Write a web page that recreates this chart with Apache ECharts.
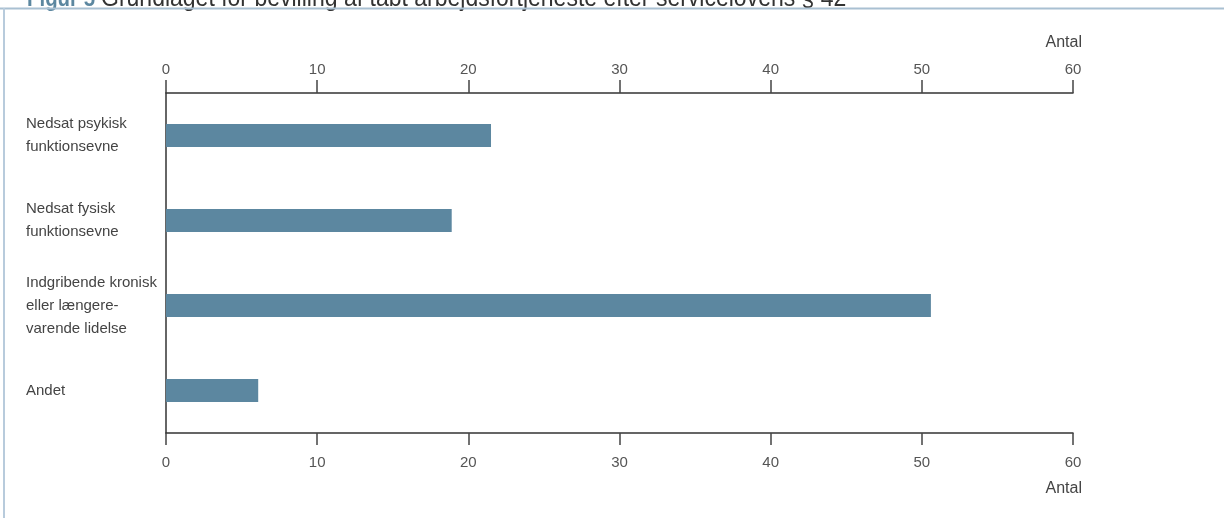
<!DOCTYPE html>
<html>
<head>
<meta charset="utf-8">
<script src="https://cdn.jsdelivr.net/npm/echarts@6/dist/echarts.min.js"></script>
<style>
html,body{margin:0;padding:0;background:#fff;}
#c{width:1224px;height:518px;}
</style>
</head>
<body>
<div id="c"></div>
<script>
const categories = [
  'Nedsat psykisk\nfunktionsevne',
  'Nedsat fysisk\nfunktionsevne',
  'Indgribende kronisk\neller længere-\nvarende lidelse',
  'Andet'
];
const values = [21.5, 18.9, 50.6, 6.1];
const axisMin = 0, axisMax = 60, axisStep = 10;
const axisName = 'Antal';
const titleNum = 'Figur 5';
const titleText = 'Grundlaget for bevilling af tabt arbejdsfortjeneste efter servicelovens § 42';

const FONT = '"Liberation Sans Narrow", "Liberation Sans", Arial, sans-serif';
const chart = echarts.init(document.getElementById('c'), null, {renderer: 'canvas'});

function xAx(pos, margin, tickLen) {
  return {
    type: 'value', position: pos, min: axisMin, max: axisMax, interval: axisStep,
    axisLine: {show: true, lineStyle: {color: '#333', width: 1.5}},
    axisTick: {show: true, length: tickLen, lineStyle: {color: '#444', width: 1.5}},
    axisLabel: {show: true, margin: margin, color: '#555', fontFamily: FONT, fontSize: 15},
    splitLine: {show: false}
  };
}

chart.setOption({
  animation: false,
  backgroundColor: '#fff',
  grid: {left: 166, right: 151, top: 93, bottom: 85, containLabel: false},
  xAxis: [xAx('top', 16, 13), xAx('bottom', 22, 12)],
  yAxis: {
    type: 'category', data: categories, inverse: true,
    axisLine: {show: true, lineStyle: {color: '#333', width: 1.5}},
    axisTick: {show: false},
    axisLabel: {align: 'left', margin: 140, color: '#444', fontFamily: FONT, fontSize: 15, lineHeight: 23}
  },
  series: [{
    type: 'bar', xAxisIndex: 1, data: values, barWidth: 23,
    itemStyle: {color: '#5c87a0'}
  }],
  graphic: [
    {type: 'text', x: 27, y: -13, scaleX: 0.85, style: {text: titleNum, fill: '#5c87a0', font: 'bold 24px ' + FONT}},
    {type: 'text', x: 101, y: -13, scaleX: 0.92, style: {text: titleText, fill: '#333', font: '25px ' + FONT}},
    {type: 'rect', shape: {x: 0, y: 9, width: 1224, height: 509}, style: {fill: '#fff'}, z: -1},
    {type: 'line', shape: {x1: 0, y1: 8.5, x2: 1224, y2: 8.5}, style: {stroke: '#a9c0d2', lineWidth: 2}},
    {type: 'line', shape: {x1: 4, y1: 8, x2: 4, y2: 518}, style: {stroke: '#b8cbdc', lineWidth: 2}},
    {type: 'text', right: 142, top: 35, style: {text: axisName, fill: '#444', font: '16px ' + FONT}},
    {type: 'text', right: 142, top: 481, style: {text: axisName, fill: '#444', font: '16px ' + FONT}}
  ]
});
</script>
</body>
</html>
